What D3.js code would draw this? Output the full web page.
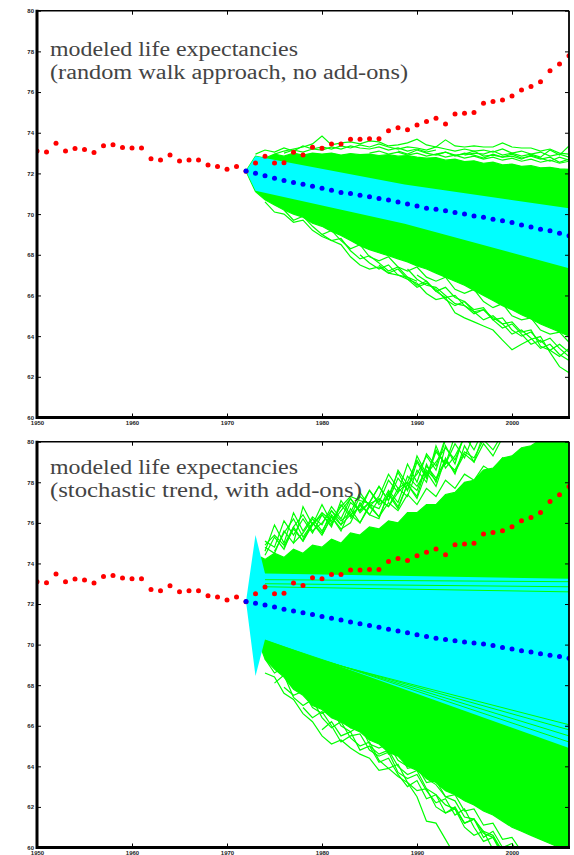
<!DOCTYPE html>
<html>
<head>
<meta charset="utf-8">
<script src="https://cdn.jsdelivr.net/npm/d3@7"></script>
<style>
body { margin: 0; background: #fff; }
svg { display: block; }
.tick text { font-family: "Liberation Sans", Arial, sans-serif; font-size: 6px; font-weight: bold; fill: #222; }
.tick line { stroke: #000; stroke-width: 1; }
.title { font-family: "Liberation Serif", "Times New Roman", serif; font-size: 20px; fill: #444; }
</style>
</head>
<body>
<div id="container"></div>
<script>
/* DATA */
const years = [1950,1951,1952,1953,1954,1955,1956,1957,1958,1959,1960,1961,1962,1963,1964,1965,1966,1967,1968,1969,
  1970,1971,1972,1973,1974,1975,1976,1977,1978,1979,1980,1981,1982,1983,1984,1985,1986,1987,1988,1989,
  1990,1991,1992,1993,1994,1995,1996,1997,1998,1999,2000,2001,2002,2003,2004,2005,2006];
const observed = [73.10,73.05,73.48,73.10,73.23,73.18,73.03,73.36,73.41,73.28,73.25,73.25,72.72,72.66,72.90,72.61,72.66,72.66,72.41,72.34,
  72.20,72.34,72.11,72.51,72.84,72.51,72.53,73.04,72.91,73.29,73.24,73.45,73.45,73.68,73.68,73.70,73.70,74.10,74.24,74.15,
  74.38,74.55,74.71,74.43,74.92,74.96,75.00,75.45,75.53,75.61,75.81,76.10,76.27,76.51,77.05,77.38,77.79];

const projYears = [1972,1973,1974,1975,1976,1977,1978,1979,1980,1981,1982,1983,1984,1985,1986,1987,1988,1989,
  1990,1991,1992,1993,1994,1995,1996,1997,1998,1999,2000,2001,2002,2003,2004,2005,2006];
// blue: projected means
const meanWalk = [72.12,72.01,71.88,71.76,71.65,71.55,71.47,71.37,71.27,71.17,71.06,71.01,70.93,70.85,70.77,70.69,70.60,70.50,
  70.40,70.29,70.24,70.16,70.08,70.01,69.91,69.85,69.75,69.67,69.59,69.46,69.36,69.26,69.18,69.06,68.94];
const meanTrend = [72.12,72.04,71.95,71.85,71.74,71.66,71.57,71.48,71.39,71.30,71.21,71.12,71.03,70.94,70.85,70.76,70.67,70.58,
  70.49,70.40,70.31,70.25,70.19,70.13,70.08,70.03,69.95,69.86,69.78,69.70,69.63,69.55,69.48,69.41,69.33];

// green envelopes (dense part of simulated paths), same years as projYears
const walkHi = [72.11,72.85,72.75,72.95,72.85,73.00,72.90,73.00,72.95,73.00,72.90,72.98,72.92,72.95,72.88,72.92,72.85,72.88,
  72.80,72.75,72.78,72.65,72.70,72.58,72.62,72.50,72.55,72.42,72.46,72.35,72.38,72.28,72.30,72.22,72.20];
const walkLo = [72.11,71.10,70.70,70.45,70.20,70.00,69.85,69.55,69.40,69.15,68.95,68.70,68.45,68.25,68.10,67.95,67.80,67.65,
  67.45,67.30,67.10,66.90,66.70,66.50,66.25,66.00,65.75,65.50,65.30,65.05,64.85,64.60,64.40,64.20,64.00];
const trendYears = [1973.6,1974,1975,1976,1977,1978,1979,1980,1981,1982,1983,1984,1985,1986,1987,1988,1989,
  1990,1991,1992,1993,1994,1995,1996,1997,1998,1999,2000,2001,2002,2003,2004,2005,2006];
const trendHi = [74.3,74.2,74.5,74.3,74.7,74.5,74.9,74.8,75.2,75.0,75.5,75.4,75.8,75.7,76.1,76.0,76.5,
  76.5,76.9,76.9,77.4,77.5,78.0,78.1,78.6,78.7,79.2,79.3,79.7,79.8,80.1,80.3,80.5,80.5];
const trendLo = [69.8,69.3,68.8,68.4,67.8,67.5,67.0,66.8,66.4,66.2,65.9,65.7,65.3,65.1,64.7,64.5,64.0,
  63.8,63.4,63.2,62.8,62.6,62.3,62.1,61.8,61.6,61.3,61.0,60.8,60.6,60.4,60.2,60.0,59.8];

// cyan fans [year, value]
const walkCyanHi = [[1972,72.12],[1973,72.85],[1988.7,71.45],[2006,70.29]];
const walkCyanLo = [[1972,72.12],[1973,71.15],[1988.7,69.52],[2006,67.34]];
const trendCyanHi = [[1972,72.12],[1973,75.4],[1974,73.5],[2006,73.25]];
const trendCyanLo = [[1972,72.12],[1973,68.45],[1974,70.25],[2006,64.9]];

// single green paths outside the dense part: first year, then one value per year
const walkUp1 = [1975, [72.95,73.10,73.20,73.30,73.45,73.84,73.40,73.50,73.55,73.45,73.60,73.55,73.35,73.40,73.50,73.68,
  73.40,73.30,73.65,73.35,73.30,73.35,73.30,73.30,73.50,73.30,73.25,73.25,73.10,73.20,73.00,72.95]];
const walkUp2 = [1976, [73.00,73.15,73.05,73.20,73.30,73.20,73.35,73.25,73.40,73.30,73.45,73.30,73.20,73.30,73.25,73.15,
  73.30,73.20,73.10,73.20,73.10,73.15,73.05,73.20,73.00,73.10,72.95,73.05,72.85,72.95,72.80]];
const walkUp3 = [1973, [72.95,73.15,73.05,73.25,73.10,73.35,73.20,73.15,73.30,73.20,73.35,73.25,73.20,73.30,73.15,73.25,
  73.10,73.20,73.05,73.15]];
const walkUp4 = [1995, [72.90,73.00,72.95,73.10,72.90,73.00,72.85,72.95,72.80,73.15,72.90,73.35]];
const walkUp5 = [1985, [73.00,73.10,72.95,73.05,72.90,73.00,72.85,72.95,72.80,72.90,72.75,72.85,72.70,72.80,72.65,72.75,
  72.60,72.70,72.55,72.65,72.50,72.60]];
const walkUp6 = [1988, [73.10,72.95,73.15,73.00,72.90,73.05,72.85,73.00,72.90,72.75,72.95,72.80,72.85,72.70,72.90,72.75,
  72.60,72.80,72.65]];
const walkUp7 = [1992, [72.95,73.05,72.90,72.95,73.10,72.85,72.90,72.80,72.95,72.75,72.85,72.70,72.80,72.55,72.70]];
const walkLow1 = [1984, [68.00,67.60,67.30,67.50,67.00,66.80,66.60,66.10,65.80,65.90,65.15,64.90,64.70,64.50,64.30,63.80,
  63.33,63.60,63.85,63.98,63.20,62.50,62.20]];
const walkLow2 = [1989, [67.30,66.80,66.50,66.40,66.00,65.60,65.50,65.20,65.30,64.90,64.60,64.70,64.20,64.30,63.50,63.30,63.60,63.20]];
const walkLow3 = [1974, [70.60,70.10,70.00,69.60,69.70,69.20,68.90,68.70,68.50,67.90,67.50,67.30,67.40,67.10,67.00,66.90,66.70]];
const walkLow4 = [1990, [67.00,66.70,66.20,66.40,65.90,65.70,65.30,65.40,64.80,64.90,64.30,64.00,64.20,63.70,63.90,63.40,63.00]];
const walkLow5 = [1976, [70.20,69.70,69.90,69.40,69.00,69.20,68.70,68.30,68.50,67.90,67.70,67.90,67.40,67.20,67.40,66.90,
  66.70,66.90,66.30,66.10,66.30,65.70,65.40,65.60,65.00,64.80,64.90,64.30,64.10,64.20,63.70]];
const walkLow6 = [1980, [69.00,68.70,68.80,68.20,67.80,67.95,67.60,67.20,67.40,66.90,66.50,66.70,66.20,65.90,66.00,65.50,
  65.10,65.30,64.80,64.40,64.60,64.10,63.60,63.80,63.30,63.00,63.40]];
const walkLow7 = [1986, [67.50,67.10,67.30,66.80,66.40,66.60,66.30,65.80,65.50,65.70,65.20,64.80,65.00,64.60,64.10,64.30,
  63.90,63.40,63.60,63.10,62.80]];

const trendUp1 = [1974, [74.6,75.9,75.0,76.5,75.6,76.3,75.9,76.8,76.2,77.2,76.6,77.0,77.8,77.1,78.2,77.6,79.3,78.4,79.0,79.7,
  79.1,80.3,79.6,80.6,80.2,80.8]];
const trendUp2 = [1974, [75.1,74.8,76.1,75.4,76.2,75.5,76.4,75.9,76.9,76.3,77.3,76.9,76.7,77.6,77.0,78.3,77.8,78.6,78.1,79.0,
  78.6,79.5,79.2,80.1,79.6,80.4,80.0,80.6]];
const trendUp3 = [1978, [75.2,75.9,76.5,76.1,76.8,77.3,77.1,76.95,77.15,76.8,77.5,78.0,77.6,78.8,78.2,79.1,78.5,79.4,79.0,79.9,79.3,80.2]];
const trendUp4 = [1974, [74.9,75.4,74.9,75.8,76.4,75.6,76.0,76.6,75.9,76.4,76.0,76.8,76.3,77.0,76.6,77.4,76.9,77.7,77.3,78.1,
  77.7,78.4,78.1,78.8,78.5,79.2,78.9,79.5,79.3,80.0,79.8,80.3,80.1]];
const trendUp5 = [1980, [75.4,76.3,75.7,76.0,77.0,76.4,76.2,77.5,76.8,77.9,77.3,78.9,78.0,79.8,78.9,80.4]];
const trendUp6 = [1974, [74.4,75.3,74.7,75.8,75.1,76.0,75.4,76.3,75.6,76.7,76.0,76.9,76.3,77.4,76.7,77.9,77.2,78.5,77.8,79.2,
  78.4,79.8,79.0,80.4]];
const trendUp7 = [1974, [74.8,74.5,75.6,75.0,76.8,75.9,76.4,75.8,77.1,76.4,76.8,77.6,77.0,78.1,77.5,78.9,78.0,79.4,78.8,80.2]];
const trendUp8 = [1975, [74.6,75.5,76.2,75.3,76.0,75.5,76.6,76.1,76.5,77.5,76.8,77.3,78.4,77.7,78.0,79.1,78.3,79.6,78.9,80.3]];
const trendUp9 = [1976, [74.8,75.7,75.1,75.9,76.9,76.0,76.6,77.2,76.5,77.0,77.8,77.1,78.6,77.9,78.4,79.3,78.6,80.1]];
const trendUp10 = [1977, [75.0,75.5,76.2,75.6,76.4,75.9,77.0,76.6,77.6,76.9,77.3,78.5,77.6,79.0,78.2,79.5,78.9,79.9,79.2,80.4]];
const trendUp11 = [1983, [76.2,76.9,76.4,77.2,76.8,77.7,77.3,78.6,78.0,79.8,78.7,79.3,80.2]];
const trendLow1 = [1974, [68.6,68.4,67.6,67.3,66.6,66.2,65.5,65.1,65.3,64.9,64.6,64.4,63.8,63.9,63.5,63.2,62.5,61.3,61.2,60.4,59.6]];
const trendLow2 = [1976, [67.9,67.5,67.7,66.9,66.6,66.9,66.0,65.7,66.0,65.1,64.9,65.1,64.3,64.0,64.2,63.4,63.1,62.5,62.3,61.5,
  61.4,60.8,60.6,59.8]];
const trendLow3 = [1985, [65.0,64.6,64.8,64.0,63.6,63.8,62.9,62.6,62.1,61.9,61.2,61.4,60.7,60.5,59.8]];
const trendLow4 = [1974, [69.3,68.6,68.9,67.9,68.2,67.2,67.5,66.6,66.8,65.9,66.1,65.3,65.5,64.6,64.8,63.9,64.0,63.2,63.3,62.5,
  62.6,61.8,61.9,61.1,61.2,60.4,60.5,59.8]];
const trendLow5 = [1975, [68.1,68.5,67.4,67.0,67.3,66.4,65.9,66.2,65.4,65.0,65.2,64.3,63.9,64.1,63.2,62.8,62.9,62.0,61.7,61.9,
  61.0,60.6,60.8,59.9]];
const trendLow6 = [1980, [65.8,66.2,65.5,65.7,64.8,65.0,64.2,64.4,63.6,63.0,63.3,62.4,62.6,61.7,62.0,61.2,61.4,60.5,60.8,60.0,60.2,59.5]];
const trendLow7 = [1978, [66.9,66.4,66.7,66.0,65.2,65.5,65.6,64.8,64.5,64.7,63.7,63.4,63.6,62.8,62.2,62.4,61.6,61.9,61.0,60.3,60.5,59.6]];
// straight green lines crossing the cyan band (trend panel)
const trendStripes = [
  [[1974,73.2],[2006,73.1]], [[1974,73.0],[2006,72.85]], [[1974,72.85],[2006,72.6]],
  [[1974,70.2],[2006,65.2]], [[1974,70.1],[2006,65.5]], [[1974,70.0],[2006,65.8]], [[1974,69.9],[2006,66.05]]
];

const xTicks = [1950,1960,1970,1980,1990,2000];
const yTicks = [60,62,64,66,68,70,72,74,76,78,80];
const titles = [
  ["modeled life expectancies", "(random walk approach, no add-ons)"],
  ["modeled life expectancies", "(stochastic trend, with add-ons)"]
];

/* CONSTANTS */
const W = 574, H = 855;
const x = d3.scaleLinear().domain([1950, 2006]).range([37, 569]);

const svg = d3.select("#container").append("svg")
  .attr("width", W).attr("height", H);

const panels = [
  { id: 0, top: 10.7, bottom: 417.5, titleY: [56, 79], titleLen: [248, 358],
    hiYears: projYears, hi: walkHi, lo: walkLo, cyanHi: walkCyanHi, cyanLo: walkCyanLo,
    paths: [walkUp1, walkUp2, walkUp3, walkUp4, walkUp5, walkUp6, walkUp7,
            walkLow1, walkLow2, walkLow3, walkLow4, walkLow5, walkLow6, walkLow7],
    stripes: [], mean: meanWalk },
  { id: 1, top: 441.7, bottom: 847.5, titleY: [474, 497], titleLen: [248, 312],
    hiYears: trendYears, hi: trendHi, lo: trendLo, cyanHi: trendCyanHi, cyanLo: trendCyanLo,
    paths: [trendUp1, trendUp2, trendUp3, trendUp4, trendUp5, trendUp6, trendUp7, trendUp8, trendUp9, trendUp10, trendUp11,
            trendLow1, trendLow2, trendLow3, trendLow4, trendLow5, trendLow6, trendLow7],
    stripes: trendStripes, mean: meanTrend }
];

panels.forEach(p => {
  const y = d3.scaleLinear().domain([60, 80]).range([p.bottom, p.top]);
  const line = d3.line().x(d => x(d[0])).y(d => y(d[1]));

  svg.append("clipPath").attr("id", "clip" + p.id)
    .append("rect")
    .attr("x", x(1950)).attr("y", p.top)
    .attr("width", x(2006) - x(1950)).attr("height", p.bottom - p.top);

  const plot = svg.append("g").attr("clip-path", "url(#clip" + p.id + ")");

  // dense green body
  const hiPts = p.hiYears.map((yr, i) => [yr, p.hi[i]]);
  const loPts = p.hiYears.map((yr, i) => [yr, p.lo[i]]);
  plot.append("path")
    .attr("d", line(hiPts.concat(loPts.reverse())) + "Z")
    .attr("fill", "#00ff00")
    .attr("stroke", "#00ff00")
    .attr("stroke-width", 1.2);

  // single paths
  p.paths.forEach(pth => {
    plot.append("path")
      .attr("d", line(pth[1].map((v, i) => [pth[0] + i, v])))
      .attr("fill", "none")
      .attr("stroke", "#00ff00")
      .attr("stroke-width", 1.2);
  });

  // cyan fan
  plot.append("path")
    .attr("d", line(p.cyanHi.concat(p.cyanLo.slice().reverse())) + "Z")
    .attr("fill", "#00ffff");

  p.stripes.forEach(s => {
    plot.append("path")
      .attr("d", line(s))
      .attr("fill", "none")
      .attr("stroke", "#00ff00")
      .attr("stroke-width", 1);
  });

  // observed (red) and projected mean (blue)
  plot.selectAll("circle.obs")
    .data(years.map((yr, i) => [yr, observed[i]]))
    .join("circle")
    .attr("class", "obs")
    .attr("cx", d => x(d[0])).attr("cy", d => y(d[1]))
    .attr("r", 2.5)
    .attr("fill", "#ff0000");

  plot.selectAll("circle.mean")
    .data(projYears.map((yr, i) => [yr, p.mean[i]]))
    .join("circle")
    .attr("class", "mean")
    .attr("cx", d => x(d[0])).attr("cy", d => y(d[1]))
    .attr("r", 2.5)
    .attr("fill", "#0000ff");

  // axes, ticks point inwards
  svg.append("g")
    .attr("transform", "translate(" + x(1950) + ",0)")
    .call(d3.axisLeft(y).tickValues(yTicks).tickSize(-4).tickPadding(3))
    .call(a => a.select(".domain").remove());
  svg.append("g")
    .attr("transform", "translate(" + x(2006) + ",0)")
    .call(d3.axisRight(y).tickValues(yTicks).tickSize(-4).tickFormat(""))
    .call(a => a.select(".domain").remove());
  svg.append("g")
    .attr("transform", "translate(0," + p.bottom + ")")
    .call(d3.axisBottom(x).tickValues(xTicks).tickSize(-4).tickPadding(3).tickFormat(d3.format("d")))
    .call(a => a.select(".domain").remove());
  svg.append("g")
    .attr("transform", "translate(0," + p.top + ")")
    .call(d3.axisTop(x).tickValues(xTicks).tickSize(-4).tickFormat(""))
    .call(a => a.select(".domain").remove());

  // frame: heavy left/bottom, light top/right
  svg.append("line")
    .attr("x1", x(1950)).attr("x2", x(2006)).attr("y1", p.top).attr("y2", p.top)
    .attr("stroke", "#000").attr("stroke-width", 1.5);
  svg.append("line")
    .attr("x1", x(2006)).attr("x2", x(2006)).attr("y1", p.top).attr("y2", p.bottom)
    .attr("stroke", "#000").attr("stroke-width", 1.8);
  svg.append("line")
    .attr("x1", x(1950)).attr("x2", x(1950)).attr("y1", p.top - 1).attr("y2", p.bottom + 1.5)
    .attr("stroke", "#000").attr("stroke-width", 3);
  svg.append("line")
    .attr("x1", x(1950)).attr("x2", x(2006) + 1).attr("y1", p.bottom).attr("y2", p.bottom)
    .attr("stroke", "#000").attr("stroke-width", 3);

  // title lines
  titles[p.id].forEach((t, i) => {
    svg.append("text")
      .attr("class", "title")
      .attr("x", 50)
      .attr("y", p.titleY[i])
      .attr("textLength", p.titleLen[i])
      .attr("lengthAdjust", "spacingAndGlyphs")
      .text(t);
  });
});
</script>
</body>
</html>
